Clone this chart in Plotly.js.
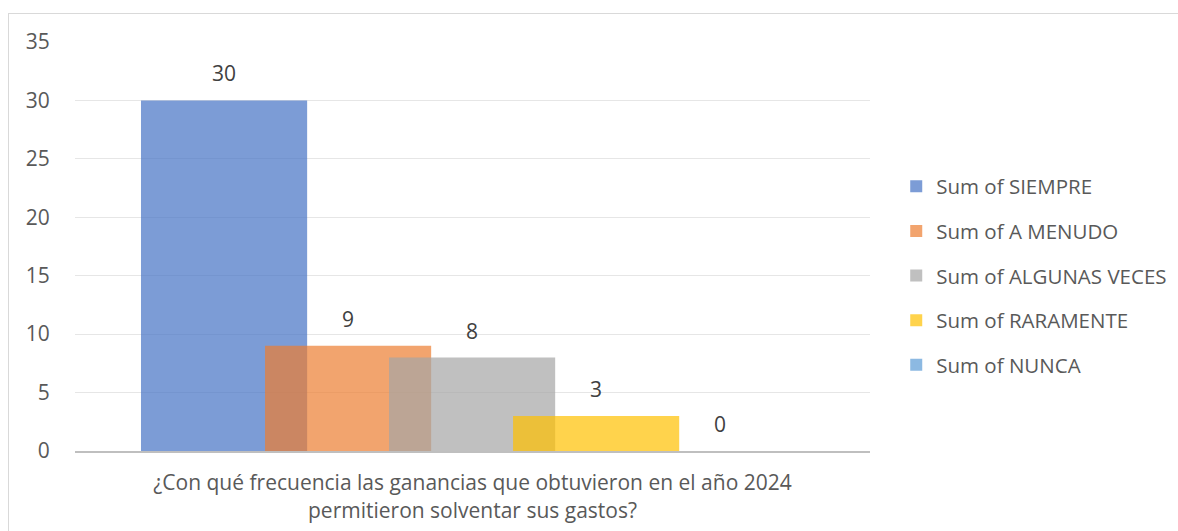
<!DOCTYPE html>
<html>
<head>
<meta charset="utf-8">
<script src="https://cdn.plot.ly/plotly-3.0.1.min.js"></script>
<style>
  html, body { margin: 0; padding: 0; background: #ffffff; overflow: hidden; }
  #chart { position: absolute; left: 0; top: 0; width: 1178px; height: 531px; }
  #frame { position: absolute; left: 8px; top: 13px; width: 1200px; height: 560px;
           border: 1px solid #d9d9d9; pointer-events: none; }
</style>
</head>
<body>
<div id="chart"></div>
<div id="frame"></div>
<script>
// ---- data ----
const categories = ['¿Con qué frecuencia las ganancias que obtuvieron en el año 2024<br>permitieron solventar sus gastos?'];
const seriesNames = ['Sum of SIEMPRE', 'Sum of A MENUDO', 'Sum of ALGUNAS VECES', 'Sum of RARAMENTE', 'Sum of NUNCA'];
const seriesValues = [30, 9, 8, 3, 0];
const seriesColors = ['rgba(68,114,196,0.7)', 'rgba(237,125,49,0.7)', 'rgba(165,165,165,0.7)', 'rgba(255,192,0,0.7)', 'rgba(91,155,213,0.7)'];
const yTicks = [0, 5, 10, 15, 20, 25, 30, 35];

// ---- layout of overlapping bars (Excel-style overlap) ----
const barWidth = 0.209;
const firstOffset = -0.417;
const step = 0.156;

const FONT = '"Open Sans", sans-serif';

const traces = seriesNames.map((name, i) => ({
  type: 'bar',
  name: name,
  x: categories,
  y: [seriesValues[i]],
  width: barWidth,
  offset: firstOffset + i * step,
  marker: { color: seriesColors[i], line: { width: 0 } },
  legendgroup: 'g' + i,
  hoverinfo: 'name+y'
}));

const annotations = seriesValues.map((v, i) => ({
  x: firstOffset + i * step + barWidth / 2,
  y: v,
  xref: 'x', yref: 'y',
  text: String(v),
  showarrow: false,
  yanchor: 'bottom',
  yshift: 11,
  font: { family: FONT, size: 21, color: '#404040' }
}));

const layout = {
  width: 1178, height: 531,
  margin: { l: 75, r: 308, t: 42, b: 80, autoexpand: false },
  paper_bgcolor: '#ffffff',
  plot_bgcolor: '#ffffff',
  barmode: 'overlay',
  showlegend: true,
  legend: {
    x: 1.033, xanchor: 'left',
    y: 0.428, yanchor: 'middle',
    traceorder: 'grouped',
    tracegroupgap: 15,
    itemwidth: 30,
    font: { family: FONT, size: 20.5, color: '#595959' },
    bgcolor: 'rgba(0,0,0,0)'
  },
  xaxis: {
    type: 'category',
    range: [-0.5, 0.5],
    showgrid: false,
    showline: true, linecolor: '#BFBFBF', linewidth: 2,
    ticks: 'outside', ticklen: 12, tickcolor: 'rgba(0,0,0,0)',
    tickfont: { family: FONT, size: 21, color: '#595959' },
    fixedrange: true
  },
  yaxis: {
    range: [0, 35],
    tickvals: yTicks,
    showgrid: true, gridcolor: '#E6E6E6', gridwidth: 1,
    zeroline: false,
    showline: false,
    ticks: 'outside', ticklen: 20, tickcolor: 'rgba(0,0,0,0)',
    tickfont: { family: FONT, size: 21, color: '#595959' },
    fixedrange: true
  },
  annotations: annotations
};

Plotly.newPlot('chart', traces, layout, { displayModeBar: false, staticPlot: true });
</script>
</body>
</html>
